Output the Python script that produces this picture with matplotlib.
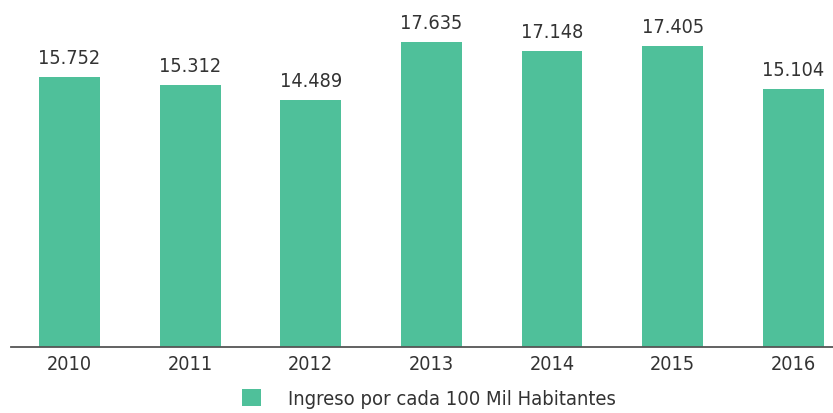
import matplotlib
matplotlib.use("Agg")
import matplotlib.pyplot as plt
from matplotlib.patches import Patch

years = ["2010", "2011", "2012", "2013", "2014", "2015", "2016"]
values = [15.752, 15.312, 14.489, 17.635, 17.148, 17.405, 15.104]
labels = ["15.752", "15.312", "14.489", "17.635", "17.148", "17.405", "15.104"]
legend_label = "Ingreso por cada 100 Mil Habitantes"

color = "#4fc09a"
text_color = "#333333"
plt.rcParams["font.family"] = ["DejaVu Sans"]
plt.rcParams["font.stretch"] = "condensed"

W, H = 833, 413
fig = plt.figure(figsize=(W / 100, H / 100), dpi=100)
ax = fig.add_axes([11 / W, 1 - 347 / H, (W - 11) / W, 347 / H])

x = list(range(len(years)))
bars = ax.bar(x, values, width=0.505, color=color, zorder=2)

ax.set_xlim(-0.485, 6.33)
ax.set_ylim(1.1, 19.91)

fs = 14.2
for xi, v, lab in zip(x, values, labels):
    ax.annotate(lab, (xi, v), xytext=(0, 9.4), textcoords="offset points",
                ha="center", va="baseline", fontsize=fs, color=text_color,
                fontstretch="condensed")

ax.set_xticks(x)
ax.set_xticklabels(years, fontsize=fs, color=text_color, fontstretch="condensed")
ax.tick_params(axis="x", length=0, pad=6)
ax.set_yticks([])
for s in ["top", "right", "left"]:
    ax.spines[s].set_visible(False)
ax.spines["bottom"].set_color("#555555")
ax.spines["bottom"].set_linewidth(1.3)

handle = Patch(facecolor=color, edgecolor="none")
fig.legend([handle], [legend_label], loc="center", bbox_to_anchor=(429 / W, 1 - 399 / H),
           frameon=False, prop={"size": 14.5, "stretch": "condensed"}, labelcolor=text_color,
           handlelength=0.9, handleheight=0.9, handletextpad=1.35)

fig.savefig("out.png", dpi=100)
